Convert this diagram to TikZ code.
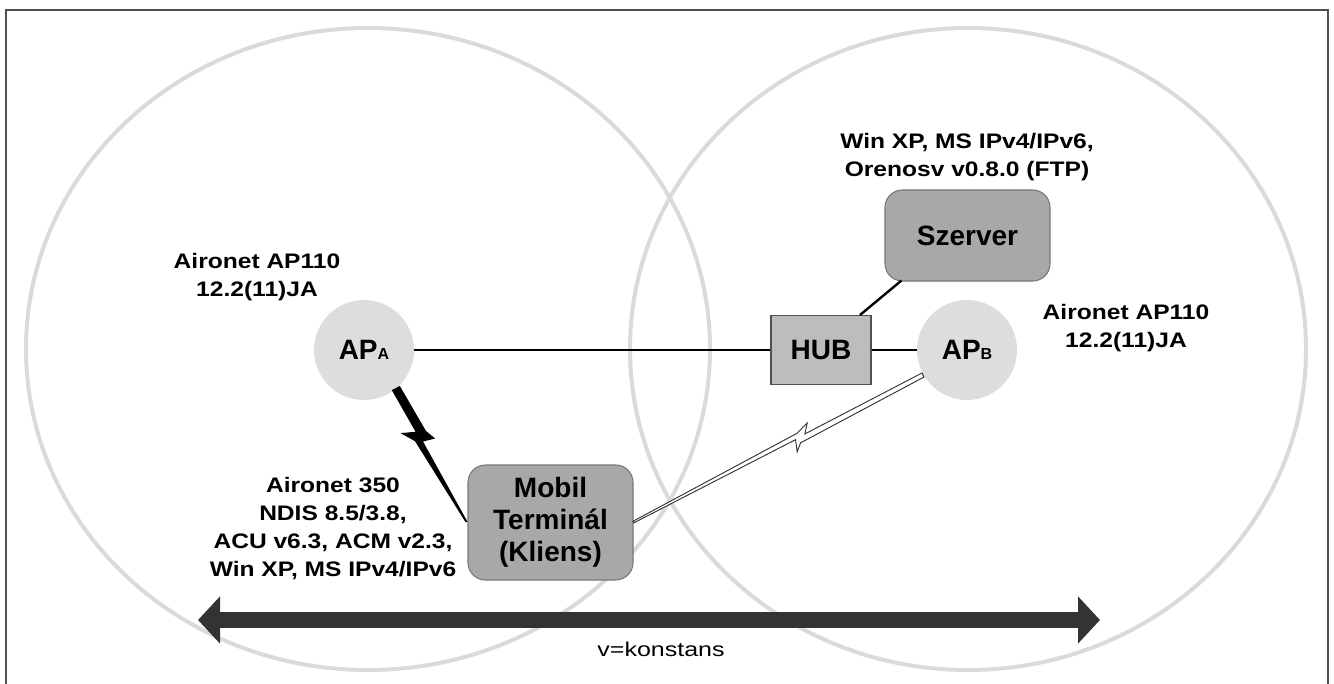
\documentclass[tikz,border=0pt]{standalone}
\usepackage{fontspec}
\setmainfont{Liberation Sans}
\newfontfamily\widef{Liberation Sans}[FakeStretch=1.17]
\newfontfamily\widerf{Liberation Sans}[FakeStretch=1.25]
\usetikzlibrary{arrows.meta,calc}
\definecolor{ringgray}{HTML}{DADADA}
\definecolor{apgray}{HTML}{DDDDDD}
\definecolor{hubgray}{HTML}{BDBDBD}
\definecolor{boxgray}{HTML}{A8A8A8}
\definecolor{boxedge}{HTML}{787878}
\definecolor{framegray}{HTML}{505050}
\definecolor{arrowgray}{HTML}{333333}
\begin{document}
\begin{tikzpicture}[x=0.75pt,y=-0.75pt,
  ring/.style={draw=ringgray, line width=3pt},
  apnode/.style={circle, fill=apgray, minimum size=75pt, inner sep=0pt,
    font=\bfseries\fontsize{21}{24}\selectfont},
  hubbox/.style={rectangle, fill=hubgray, draw=framegray, line width=0.8pt,
    minimum width=75pt, minimum height=51.75pt, inner sep=0pt,
    font=\bfseries\fontsize{21}{24}\selectfont},
  devbox/.style={rectangle, rounded corners=13pt, fill=boxgray, draw=boxedge,
    line width=0.8pt, minimum width=123.75pt, inner sep=0pt, align=center,
    font=\bfseries\fontsize{21}{24}\selectfont},
  lbl/.style={align=center, inner sep=0pt,
    font=\widef\bfseries\fontsize{15.75}{21}\selectfont},
  wire/.style={draw=black, line width=1.8pt},
  frameline/.style={draw=framegray, line width=1.1pt}
]
\useasboundingbox (0,0) rectangle (1334,684);

% frame
\draw[frameline] (6,684) -- (6,10) -- (1328,10) -- (1328,684);

% coverage areas
\draw[ring] (368,349) ellipse [x radius=256.5pt, y radius=240.75pt];
\draw[ring] (968,349) ellipse [x radius=253.5pt, y radius=240.75pt];

% nodes
\node[apnode] (apa) at (364,350) {AP{\fontsize{12}{12}\selectfont A}};
\node[apnode] (apb) at (967,350) {AP{\fontsize{12}{12}\selectfont B}};
\node[hubbox] (hub) at (821,350) {HUB};
\node[devbox, minimum height=68.25pt] (srv) at (967.5,235.5) {Szerver};
\node[devbox, minimum height=86.25pt] (mob) at (550.5,522.5) {Mobil\\Terminál\\(Kliens)};

% labels
\node[lbl] (lsrv) at (967,157) {Win XP, MS IPv4/IPv6,\\Orenosv v0.8.0 (FTP)};
\node[lbl] (lapa) at (257,277) {Aironet AP110\\12.2(11)JA};
\node[lbl] (lapb) at (1126,328) {Aironet AP110\\12.2(11)JA};
\node[lbl] (lmob) at (333,529) {Aironet 350\\NDIS 8.5/3.8,\\ACU v6.3, ACM v2.3,\\Win XP, MS IPv4/IPv6};

% wired links
\draw[wire] (apa.east) -- (hub.west);
\draw[wire] (hub.east) -- (apb.west);
\draw[wire] ($(hub.north)+(39,0)$) -- ($(srv.south west)+(17,-1)$);

% radio link AP_A -- Mobil (black bolt)
\coordinate (bb) at (466.7,521.7);
\fill[black] (391.8,390.1) -- (399.8,385.9) -- (425.9,430.9) -- (435.0,438.5)
  -- (423.0,441.5) -- (bb -| mob.west) -- (465.6,522.3) -- (415.0,441.2)
  -- (400.5,433.1) -- (415.6,431.8) -- cycle;

% radio link AP_B -- Mobil (hollow bolt)
\filldraw[fill=white, draw=black!80, line width=0.7pt]
  (922.0,373.0) -- (924.0,377.0) -- (800.5,442.9) -- (797.2,451.8)
  -- (795.5,439.7) -- (633.9,522.8) -- (633.1,521.2) -- (796.8,433.4)
  -- (807.2,423.0) -- (804.9,433.9) -- cycle;

% movement arrow
\coordinate (arrL) at (198,620);
\coordinate (arrR) at (1100,620);
\draw[draw=arrowgray, line width=12pt,
  {Triangle[length=16.5pt,width=34.5pt]}-{Triangle[length=16.5pt,width=34.5pt]}]
  (arrL) -- (arrR);
\node[inner sep=0pt, font=\widerf\fontsize{15}{18}\selectfont] (vk) at (661,649) {v=konstans};
\end{tikzpicture}
\end{document}
